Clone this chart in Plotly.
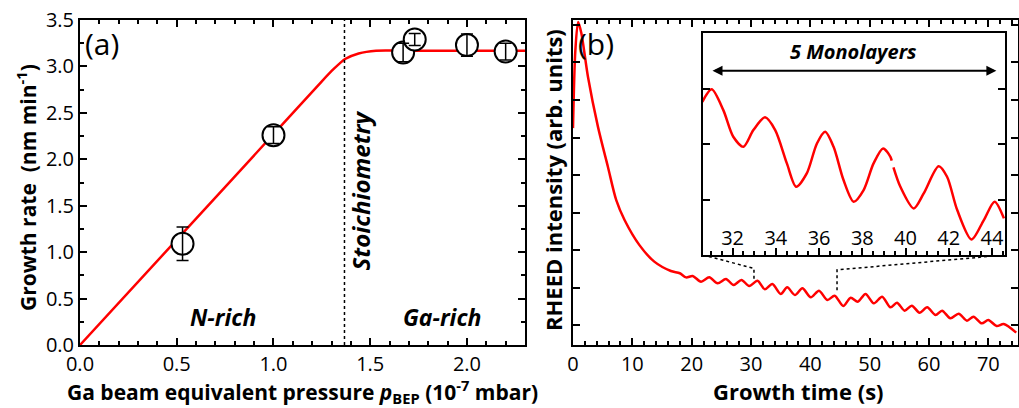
import plotly.graph_objects as go

# ---------------- data: panel (a) ----------------
p_bep = [0.53, 1.0, 1.67, 1.73, 2.0, 2.2]
growth_rate = [1.09, 2.26, 3.15, 3.29, 3.23, 3.16]
growth_err = [0.18, 0.09, 0.10, 0.065, 0.12, 0.09]

fit_p = [0.0, 0.6, 1.0, 1.25, 1.31, 1.37, 1.44, 1.53, 1.7, 2.3]
fit_rate = [0.0, 1.36, 2.27, 2.84, 2.97, 3.08, 3.14, 3.17, 3.17, 3.17]

stoich_p = 1.367

# ---------------- data: panel (b) ----------------
time_s = [0.0, 0.4, 0.87, 1.41, 2.52, 4.2, 5.88, 7.29, 8.69, 11.2, 13.7, 16.5, 18.0, 19.06,
          20.17, 21.58, 22.97, 24.37, 25.78, 27.06, 28.4, 29.7, 31.1, 32.34, 33.6, 35.0,
          36.1, 37.4, 38.66, 40.07, 41.46, 42.86, 44.1, 45.55, 46.8, 48.0, 49.3, 50.7,
          52.1, 53.5, 54.6, 55.9, 57.1, 58.4, 59.7, 61.1, 62.2, 63.6, 65.0, 66.4, 67.5,
          68.9, 70.0, 71.4, 72.6, 74.7]
rheed = [5.25, 7.33, 8.08, 7.78, 6.62, 5.29, 4.22, 3.33, 2.8, 2.13, 1.69, 1.44, 1.38, 1.27,
         1.307, 1.156, 1.271, 1.111, 1.227, 1.067, 1.2, 1.04, 1.182, 0.951, 1.093, 0.827,
         1.004, 0.8, 0.978, 0.738, 0.916, 0.667, 0.782, 0.507, 0.729, 0.622, 0.827, 0.578,
         0.756, 0.471, 0.596, 0.382, 0.516, 0.329, 0.471, 0.267, 0.382, 0.178, 0.302, 0.116,
         0.222, 0.044, 0.133, -0.027, 0.027, -0.204]

inset_t = [30.6, 31.03, 31.57, 32.03, 32.5, 32.96, 33.5, 33.97, 34.51, 34.94, 35.43, 35.9,
           36.28, 36.67, 37.13, 37.6, 38.06, 38.52, 38.96, 39.3, 39.36, None, 39.44, 39.76, 40.38,
           40.84, 41.53, 41.92, 42.39, 43.05, 43.62, 44.12, 44.55]
inset_v = [2.76, 2.985, 2.61, 2.13, 1.95, 2.25, 2.48, 2.25, 1.65, 1.23, 1.47, 2.01,
           2.22, 1.95, 1.35, 0.96, 1.17, 1.65, 1.92, 1.77, 1.70, None, 1.58, 1.23, 0.84,
           1.11, 1.60, 1.41, 0.81, 0.28, 0.63, 0.96, 0.66]

inset_range = [30.63, 44.6]
ml_start, ml_end = 31.0, 44.2

# ---------------- layout geometry ----------------
W, H = 1019, 408
def fx(px):
    return px / W
def fy(py):
    return (H - py) / H

dom_ax = [fx(80), fx(525)]
dom_bx = [fx(573), fx(1018)]
dom_y = [fy(345), fy(20)]
dom_ix = [fx(703), fx(1005)]
dom_iy = [fy(255), fy(33)]

b_xrange = [0, 75]
b_yrange = [-0.533, 8.133]

FONT = "Open Sans"
RED = "#ff0000"

fig = go.Figure()

# panel (a)
fig.add_trace(go.Scatter(x=fit_p, y=fit_rate, mode="lines", line=dict(color=RED, width=2.5, shape="spline", smoothing=0.6),
                         xaxis="x", yaxis="y", showlegend=False, hoverinfo="skip"))
fig.add_trace(go.Scatter(x=[stoich_p, stoich_p], y=[0, 3.5], mode="lines", line=dict(color="black", width=1.5, dash="dot"),
                         xaxis="x", yaxis="y", showlegend=False, hoverinfo="skip"))
fig.add_trace(go.Scatter(x=p_bep, y=growth_rate, mode="markers",
                         marker=dict(symbol="circle", size=22, color="white", line=dict(color="black", width=2)),
                         xaxis="x", yaxis="y", showlegend=False))
fig.add_trace(go.Scatter(x=p_bep, y=growth_rate, mode="markers",
                         marker=dict(size=22, color="rgba(0,0,0,0)"),
                         error_y=dict(type="data", array=growth_err, color="black", thickness=1.5, width=6),
                         xaxis="x", yaxis="y", showlegend=False))

# panel (b)
fig.add_trace(go.Scatter(x=time_s, y=rheed, mode="lines", line=dict(color=RED, width=2.5, shape="spline", smoothing=0.8),
                         xaxis="x2", yaxis="y2", showlegend=False, hoverinfo="skip"))

# connectors from inset corners to the zoomed region
def to_b(xp, yp):
    bx = b_xrange[0] + (xp - dom_bx[0]) / (dom_bx[1] - dom_bx[0]) * (b_xrange[1] - b_xrange[0])
    by = b_yrange[0] + (yp - dom_y[0]) / (dom_y[1] - dom_y[0]) * (b_yrange[1] - b_yrange[0])
    return bx, by

cl = to_b(dom_ix[0], dom_iy[0])
cr = to_b(dom_ix[1], dom_iy[0])
fig.add_trace(go.Scatter(x=[cl[0], 30.5, 30.5], y=[cl[1], 1.51, 1.2], mode="lines",
                         line=dict(color="black", width=1.5, dash="dot"), xaxis="x2", yaxis="y2",
                         showlegend=False, hoverinfo="skip"))
fig.add_trace(go.Scatter(x=[cr[0], 44.5, 44.5], y=[cr[1], 1.47, 0.89], mode="lines",
                         line=dict(color="black", width=1.5, dash="dot"), xaxis="x2", yaxis="y2",
                         showlegend=False, hoverinfo="skip"))

# inset
fig.add_trace(go.Scatter(x=inset_t, y=inset_v, mode="lines", connectgaps=False,
                         line=dict(color=RED, width=2.5, shape="spline", smoothing=0.8),
                         xaxis="x3", yaxis="y3", showlegend=False, hoverinfo="skip"))

axis_common = dict(showgrid=False, zeroline=False, showline=True, linecolor="black", linewidth=2,
                   ticks="inside", tickcolor="black", tickwidth=1.5, ticklen=7, automargin=False,
                   tickfont=dict(family=FONT, size=20, color="black"))

fig.update_layout(
    width=W, height=H, margin=dict(l=0, r=0, t=0, b=0),
    paper_bgcolor="white", plot_bgcolor="white",
    font=dict(family=FONT, color="black"),
    xaxis=dict(domain=dom_ax, range=[0, 2.3], dtick=0.5, tick0=0, tickformat=".1f", anchor="y", mirror="allticks",
               minor=dict(dtick=0.1, ticks="inside", ticklen=4, tickcolor="black", tickwidth=1.5), **axis_common),
    yaxis=dict(domain=dom_y, range=[0, 3.5], dtick=0.5, tick0=0, tickformat=".1f", anchor="x", mirror="allticks",
               minor=dict(dtick=0.25, ticks="inside", ticklen=4, tickcolor="black", tickwidth=1.5), **axis_common),
    xaxis2=dict(domain=dom_bx, range=b_xrange, dtick=10, tick0=0, anchor="y2", mirror="allticks",
                minor=dict(dtick=2, ticks="inside", ticklen=4, tickcolor="black", tickwidth=1.5), **axis_common),
    yaxis2=dict(domain=dom_y, range=b_yrange, dtick=1, tick0=0, anchor="x2", mirror="allticks",
                showticklabels=False, **axis_common),
    xaxis3=dict(domain=dom_ix, range=inset_range, dtick=2, tick0=0, anchor="y3", mirror=True,
                ticklabelposition="inside",
                minor=dict(dtick=0.5, ticks="inside", ticklen=4, tickcolor="black", tickwidth=1.5), **axis_common),
    yaxis3=dict(domain=dom_iy, range=[0, 4], dtick=1, tick0=0, anchor="x3", mirror="allticks",
                showticklabels=False, **axis_common),
)

def T(size):
    return dict(family=FONT, size=size, color="black")

C = dict(xanchor="center", yanchor="middle", showarrow=False)
ann = [
    dict(text="(a)", x=fx(83), y=fy(44), xref="paper", yref="paper", xanchor="left", yanchor="middle",
         showarrow=False, font=T(30)),
    dict(text="(b)", x=fx(576), y=fy(44), xref="paper", yref="paper", xanchor="left", yanchor="middle",
         showarrow=False, font=T(30)),
    dict(text="<b><i>N-rich</i></b>", x=0.74, y=0.3, xref="x", yref="y", font=T(23), **C),
    dict(text="<b><i>Ga-rich</i></b>", x=1.87, y=0.3, xref="x", yref="y", font=T(23), **C),
    dict(text="<b><i>Stoichiometry</i></b>", x=1.45, y=1.66, xref="x", yref="y",
         textangle=-90, font=T(24), **C),
    dict(text="<b>Growth rate  (nm min<sup>-1</sup>)</b>", x=fx(26), y=fy(188), xref="paper", yref="paper",
         textangle=-90, font=T(21), **C),
    dict(text="<b>Ga beam equivalent pressure <i>p</i><sub>BEP</sub> (10<sup>-7</sup> mbar)</b>", x=fx(302), y=fy(391),
         xref="paper", yref="paper", font=T(21), **C),
    dict(text="<b>Growth time (s)</b>", x=fx(798), y=fy(391), xref="paper", yref="paper", font=T(22), **C),
    dict(text="<b>RHEED intensity (arb. units)</b>", x=fx(553), y=fy(180), xref="paper", yref="paper",
         textangle=-90, font=T(22), **C),
    dict(text="<b><i>5 Monolayers</i></b>", x=(ml_start + ml_end) / 2, y=3.66, xref="x3", yref="y3",
         font=T(20), **C),
    dict(text="", x=ml_end, y=3.32, ax=ml_start, ay=3.32, xref="x3", yref="y3", axref="x3", ayref="y3",
         showarrow=True, arrowhead=2, startarrowhead=2, arrowside="end+start", arrowwidth=2,
         arrowsize=1, startarrowsize=1, arrowcolor="black"),
]
fig.update_layout(annotations=ann)

fig.write_html("out.html")
